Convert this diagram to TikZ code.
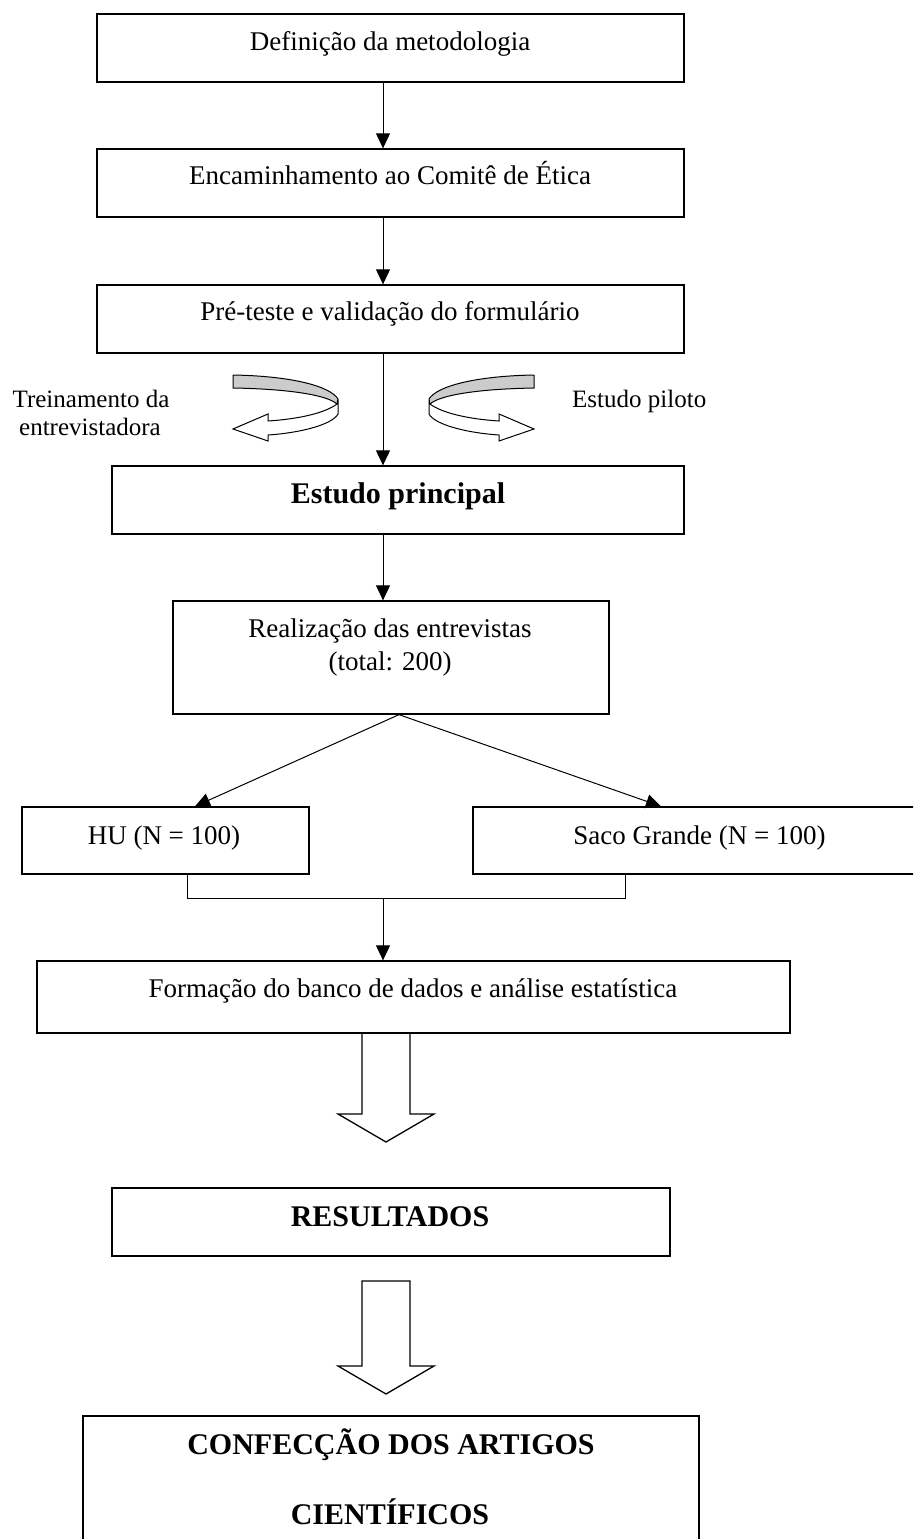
\documentclass[tikz,border=0pt]{standalone}
\usepackage{fontspec}
\setmainfont{Liberation Serif}
\usetikzlibrary{arrows.meta}
\newcommand{\ribbonarrow}{%
  \fill[gray!40] (534,375) .. controls (476,376) and (437,386) .. (429,399) -- (430,404) .. controls (440,395) and (478,389) .. (534,388) -- cycle;
  \draw[line width=1pt] (534,375) .. controls (476,376) and (437,386) .. (429,399);
  \draw[line width=1pt] (534,375) -- (534,388) .. controls (478,389) and (440,395) .. (430,404);
  \draw[line width=1pt, fill=white, line join=miter] (429,399) -- (429,414) .. controls (435,425) and (468,433) .. (499,435) -- (499,441) -- (534,429) -- (499,414) -- (499,421) .. controls (468,419) and (442,413) .. (430,404) -- cycle;
}
\begin{document}
\begin{tikzpicture}[x=1pt,y=-1pt,
  box/.style={draw, line width=1.3pt, rectangle, inner sep=0pt},
  txt/.style={anchor=base, inner sep=0pt, font=\fontsize{27}{33}\selectfont},
  btxt/.style={anchor=base, inner sep=0pt, font=\fontsize{30}{36}\selectfont\bfseries},
  stxt/.style={anchor=base, inner sep=0pt, font=\fontsize{25}{28}\selectfont},
  arr/.style={line width=1pt, -{Triangle[length=15pt,width=14pt]}},
  ln/.style={line width=1pt},
  blk/.style={line width=1.3pt, line join=miter}]
\useasboundingbox (0,0) rectangle (913,1539);
\clip (0,0) rectangle (913,1539);
\fill[white] (0,0) rectangle (913,1539);

% boxes
\node[box, minimum width=587pt, minimum height=68pt] (b1) at (390.5,48) {};
\node[box, minimum width=587pt, minimum height=68pt] (b2) at (390.5,183) {};
\node[box, minimum width=587pt, minimum height=68pt] (b3) at (390.5,319) {};
\node[box, minimum width=572pt, minimum height=68pt] (b4) at (398,500) {};
\node[box, minimum width=436pt, minimum height=113pt] (b5) at (391,657.5) {};
\node[box, minimum width=287pt, minimum height=67pt] (b6) at (165.5,840.5) {};
\node[box, minimum width=453pt, minimum height=67pt] (b7) at (699.5,840.5) {};
\node[box, minimum width=753pt, minimum height=72pt] (b8) at (413.5,997) {};
\node[box, minimum width=558pt, minimum height=68pt] (b9) at (391,1222) {};
\node[box, minimum width=616pt, minimum height=144pt] (b10) at (391,1488) {};
\draw[line width=1pt] (218,465) -- (684,465);

% texts
\node[txt] (t1) at (390,50) {Definição da metodologia};
\node[txt] (t2) at (390,184) {Encaminhamento ao Comitê de Ética};
\node[txt] (t3) at (390,320) {Pré-teste e validação do formulário};
\node[btxt] (t4) at (398,503) {Estudo principal};
\node[txt] (t5a) at (390,637) {Realização das entrevistas};
\node[txt] (t5b) at (390,670) {(total: 200)};
\node[txt] (t6) at (164,844) {HU (N = 100)};
\node[txt] (t7) at (699.5,844) {Saco Grande (N = 100)};
\node[txt] (t8) at (413,997) {Formação do banco de dados e análise estatística};
\node[btxt] (t9) at (390,1226) {RESULTADOS};
\node[btxt] (t10a) at (391,1454) {CONFECÇÃO DOS ARTIGOS};
\node[btxt] (t10b) at (390,1524) {CIENTÍFICOS};
\node[stxt] (l1a) at (91,407) {Treinamento da};
\node[stxt] (l1b) at (90,435) {entrevistadora};
\node[stxt, anchor=base west] (l2) at (572,407) {Estudo piloto};

% helper coordinates
\coordinate (ax) at (383,0);
\coordinate (dx) at (399,0);
\coordinate (hx) at (195,0);
\coordinate (sx) at (661,0);
\coordinate (lbx) at (187.5,0);
\coordinate (rbx) at (625,0);
\coordinate (by) at (0,898);

% connectors
\draw[arr] (b1.south -| ax) -- (b2.north -| ax);
\draw[arr] (b2.south -| ax) -- (b3.north -| ax);
\draw[arr] (b3.south -| ax) -- (b4.north -| ax);
\draw[arr] (b4.south -| ax) -- (b5.north -| ax);
\draw[arr] (b5.south -| dx) -- (b6.north -| hx);
\draw[arr] (b5.south -| dx) -- (b7.north -| sx);
\draw[ln] (b6.south -| lbx) -- (lbx |- by) -- (rbx |- by) -- (b7.south -| rbx);
\draw[arr] (ax |- by) -- (b8.north -| ax);

% curved ribbon arrows
\ribbonarrow
\begin{scope}[xshift=767pt, xscale=-1]
  \ribbonarrow
\end{scope}

% block arrows
\draw[blk] (362,1033) -- (362,1114) -- (338,1114) -- (386,1142) -- (434,1114) -- (410,1114) -- (410,1033);
\draw[blk] (362,1281) -- (362,1366) -- (338,1366) -- (386,1394) -- (434,1366) -- (410,1366) -- (410,1281) -- cycle;
\end{tikzpicture}
\end{document}
